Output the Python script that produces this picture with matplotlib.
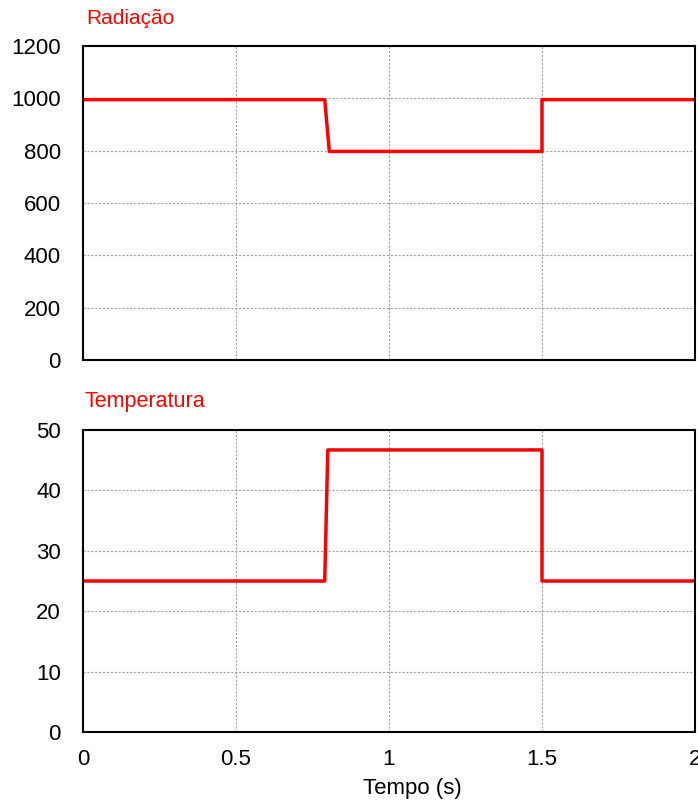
import matplotlib
matplotlib.use("Agg")
import matplotlib.pyplot as plt

plt.rcParams['font.family'] = ['Liberation Sans', 'DejaVu Sans']

# dados
t_rad = [0, 0.79, 0.805, 1.5, 1.5, 2]
rad = [995, 995, 797, 797, 995, 995]
t_temp = [0, 0.79, 0.80, 1.5, 1.5, 2]
temp = [25, 25, 46.7, 46.7, 25, 25]

x_ticks = [0, 0.5, 1, 1.5, 2]
x_labels = ['0', '0.5', '1', '1.5', '2']
rad_ticks = [0, 200, 400, 600, 800, 1000, 1200]
temp_ticks = [0, 10, 20, 30, 40, 50]

fig = plt.figure(figsize=(6.98, 8), dpi=100)
ax1 = fig.add_axes([0.1189, 0.55, 0.8768, 0.3925])
ax2 = fig.add_axes([0.1189, 0.085, 0.8768, 0.3775])

def estilo(ax, yt, ymax):
    ax.set_xlim(0, 2)
    ax.set_ylim(0, ymax)
    ax.set_xticks(x_ticks)
    ax.set_yticks(yt)
    ax.grid(True, color='#a0a0a0', linestyle=(0, (2, 1.5)), linewidth=0.8)
    ax.set_axisbelow(True)
    for s in ax.spines.values():
        s.set_linewidth(1.5)
        s.set_color('black')
    ax.tick_params(length=0, labelsize=16)
    ax.tick_params(axis='y', pad=16)
    ax.tick_params(axis='x', pad=12)

estilo(ax1, rad_ticks, 1200)
ax1.plot(t_rad, rad, color='#ff0000', lw=2.5)
ax1.set_xticklabels([])
fig.text(0.124, 0.977, 'Radiação', color='#ff0000', fontsize=15, va='center', ha='left')

estilo(ax2, temp_ticks, 50)
ax2.plot(t_temp, temp, color='#ff0000', lw=2.5)
ax2.set_xticklabels(x_labels)
ax2.set_xlabel('Tempo (s)', fontsize=16)
ax2.xaxis.set_label_coords(0.5376, -0.152)
fig.text(0.121, 0.4975, 'Temperatura', color='#ff0000', fontsize=15.5, va='center', ha='left')

fig.savefig('out.png', dpi=100)
